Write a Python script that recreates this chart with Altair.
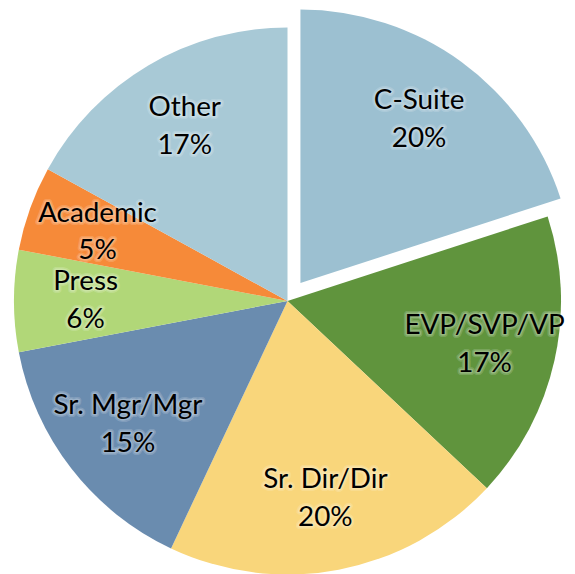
import altair as alt
import pandas as pd

categories = ["C-Suite", "EVP/SVP/VP", "Sr. Dir/Dir", "Sr. Mgr/Mgr", "Press", "Academic", "Other"]
shares = [20, 17, 20, 15, 6, 5, 17]
colors = ["#9cc0d1", "#60943d", "#f9d67b", "#6a8caf", "#b1d778", "#f68a39", "#a8c9d6"]
exploded = "C-Suite"

df = pd.DataFrame({
    "cat": categories,
    "share": shares,
    "idx": list(range(len(categories))),
})
df["pct"] = [f"{v}%" for v in shares]

R = 275
LABEL_R = 203
LINE_H = 38
BASE_X, BASE_Y = 0, 10
EX_X, EX_Y = 13, -18

base = alt.Chart(df).encode(
    theta=alt.Theta("share:Q", stack=True),
    order=alt.Order("idx:Q", sort="ascending"),
)

is_ex = alt.datum.cat == exploded
color = alt.Color("cat:N", scale=alt.Scale(domain=categories, range=colors), legend=None)

pie_main = base.mark_arc(outerRadius=R, xOffset=BASE_X, yOffset=BASE_Y).encode(
    color=color,
    opacity=alt.condition(is_ex, alt.value(0), alt.value(1)),
)
pie_ex = base.mark_arc(outerRadius=R, xOffset=BASE_X + EX_X, yOffset=BASE_Y + EX_Y).encode(
    color=color,
    opacity=alt.condition(is_ex, alt.value(1), alt.value(0)),
)

def text_layers(xo, yo, show_ex):
    op = alt.condition(is_ex, alt.value(1 if show_ex else 0), alt.value(0 if show_ex else 1))
    out = []
    for field, dyv in (("cat", -LINE_H / 2), ("pct", LINE_H / 2)):
        common = dict(radius=LABEL_R, fontSize=28, font="Lato",
                      align="center", baseline="middle", xOffset=xo, yOffset=yo + dyv)
        out.append(base.mark_text(stroke="white", strokeWidth=6, strokeOpacity=0.18,
                                  strokeJoin="round", fill="black", fillOpacity=0, **common)
                   .encode(text=f"{field}:N", opacity=op))
        out.append(base.mark_text(stroke="white", strokeWidth=3, strokeOpacity=0.22,
                                  strokeJoin="round", fill="black", fillOpacity=0, **common)
                   .encode(text=f"{field}:N", opacity=op))
        out.append(base.mark_text(fill="black", **common)
                   .encode(text=f"{field}:N", opacity=op))
    return out

layers = [pie_main, pie_ex]
layers += text_layers(BASE_X, BASE_Y, False)
layers += text_layers(BASE_X + EX_X, BASE_Y + EX_Y, True)

chart = alt.layer(*layers).properties(
    width=562, height=566, padding=0,
    autosize=alt.AutoSizeParams(type="none"),
).configure_view(stroke=None)

chart.save("out.html", embed_options={"renderer": "svg", "actions": False})
